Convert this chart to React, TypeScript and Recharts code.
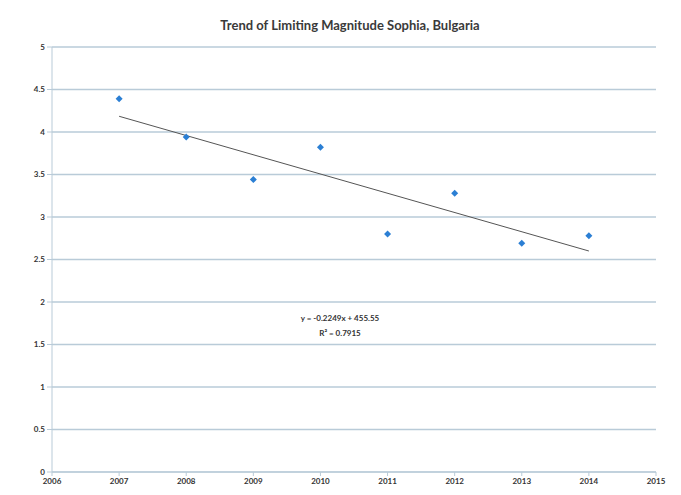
import React from 'react';
import { ComposedChart, Scatter, XAxis, YAxis, CartesianGrid } from 'recharts';

const years = [2007, 2008, 2009, 2010, 2011, 2012, 2013, 2014];
const magnitudes = [4.39, 3.94, 3.44, 3.82, 2.80, 3.28, 2.69, 2.78];
const xTicks = [2006, 2007, 2008, 2009, 2010, 2011, 2012, 2013, 2014, 2015];
const yTicks = [0, 0.5, 1, 1.5, 2, 2.5, 3, 3.5, 4, 4.5, 5];
const title = 'Trend of Limiting Magnitude Sophia, Bulgaria';
const equationText = 'y = -0.2249x + 455.55';
const r2Text = 'R² = 0.7915';

const points = years.map((x, i) => ({ x, y: magnitudes[i] }));

// least-squares trendline from the data
const n = years.length;
const mx = years.reduce((a, b) => a + b, 0) / n;
const my = magnitudes.reduce((a, b) => a + b, 0) / n;
let sxy = 0, sxx = 0;
years.forEach((x, i) => { sxy += (x - mx) * (magnitudes[i] - my); sxx += (x - mx) * (x - mx); });
const slope = sxy / sxx;
const intercept = my - slope * mx;
const trend = [years[0], years[n - 1]].map((x) => ({ x, y: intercept + slope * x }));

const Diamond = (props: any) => {
  const { cx, cy } = props;
  if (cx == null || cy == null) return null;
  const s = 3.5;
  return <polygon points={`${cx},${cy - s} ${cx + s},${cy} ${cx},${cy + s} ${cx - s},${cy}`} fill="#2b7fd4" />;
};

const tickStyle = { fontSize: 8, fill: '#333', fontWeight: 700, fontFamily: 'Lato, "Open Sans", sans-serif' };

export default function App() {
  return (
    <div style={{ position: 'absolute', left: 0, top: 0, width: 681, height: 495, background: '#fff' }}>
      <div style={{ position: 'absolute', left: 0, top: 17, width: 700, textAlign: 'center', fontFamily: 'Lato, "Open Sans", sans-serif', fontWeight: 700, fontSize: 13, color: '#3a3a3a' }}>
        {title}
      </div>
      <ComposedChart width={681} height={495} margin={{ top: 47, right: 25, bottom: 5, left: 0 }}>
        <CartesianGrid vertical={false} stroke="#b9cbd8" strokeWidth={1.5} />
        <XAxis
          type="number"
          dataKey="x"
          domain={[2006, 2015]}
          ticks={xTicks}
          interval={0}
          stroke="#b9cbd8"
          tickLine={{ stroke: '#b9cbd8' }}
          tickSize={4}
          tick={tickStyle}
          height={18}
          allowDataOverflow
        />
        <YAxis
          type="number"
          domain={[0, 5]}
          ticks={yTicks}
          interval={0}
          stroke="#b9cbd8"
          tickLine={{ stroke: '#b9cbd8' }}
          tickSize={5}
          tick={tickStyle}
          width={52}
          tickFormatter={(v: number) => String(v)}
        />
        <Scatter data={trend} dataKey="y" line={{ stroke: '#555', strokeWidth: 1 }} shape={() => null} isAnimationActive={false} />
        <Scatter data={points} dataKey="y" shape={<Diamond />} isAnimationActive={false} />
      </ComposedChart>
      <div style={{ position: 'absolute', left: 240, top: 311, width: 200, textAlign: 'center', fontFamily: 'Lato, "Open Sans", sans-serif', fontWeight: 700, fontSize: 8, color: '#333', lineHeight: '15px' }}>
        <div>{equationText}</div>
        <div>{r2Text}</div>
      </div>
    </div>
  );
}
